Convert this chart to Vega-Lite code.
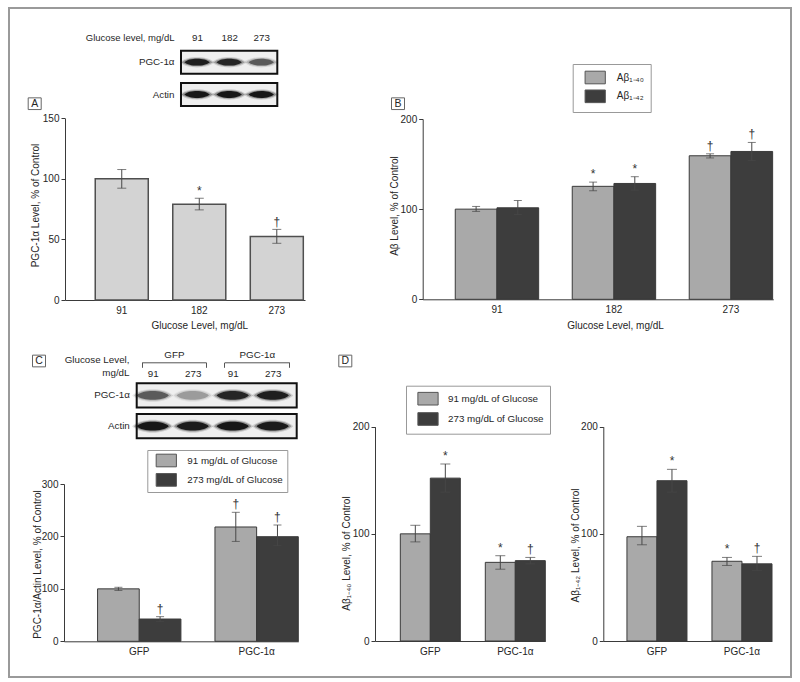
{
  "$schema": "https://vega.github.io/schema/vega-lite/v6.json",
  "width": 782,
  "height": 669,
  "autosize": {"type": "none"},
  "padding": {"left": 9, "top": 8, "right": 9, "bottom": 5},
  "background": "white",
  "config": {
    "font": "Liberation Sans, Arial, Helvetica, sans-serif",
    "view": {"stroke": "#9a9a9a", "strokeWidth": 2},
    "axis": {
      "grid": false,
      "labelFont": "Liberation Sans, Arial, Helvetica, sans-serif",
      "titleFont": "Liberation Sans, Arial, Helvetica, sans-serif",
      "labelFontSize": 10,
      "titleFontSize": 10,
      "titleFontWeight": "normal",
      "labelColor": "#262626",
      "titleColor": "#262626",
      "domainColor": "#3a3a3a",
      "tickColor": "#3a3a3a",
      "tickSize": 4,
      "labelPadding": 2
    },
    "legend": {
      "labelFont": "Liberation Sans, Arial, Helvetica, sans-serif",
      "labelFontSize": 9.8,
      "labelColor": "#262626",
      "symbolOpacity": 1
    },
    "text": {"font": "Liberation Sans, Arial, Helvetica, sans-serif"}
  },
  "datasets": {
    "A": [
      {"glucose": "91", "value": 100, "lo": 92.3, "hi": 107.7, "sig": ""},
      {"glucose": "182", "value": 79, "lo": 74.4, "hi": 84, "sig": "*"},
      {"glucose": "273", "value": 52.5, "lo": 46.8, "hi": 58.3, "sig": "†"}
    ],
    "B": [
      {"glucose": "91", "peptide": "Aβ₁₋₄₀", "value": 100, "lo": 97.5, "hi": 103, "sig": ""},
      {"glucose": "91", "peptide": "Aβ₁₋₄₂", "value": 101.5, "lo": 94, "hi": 109.5, "sig": ""},
      {"glucose": "182", "peptide": "Aβ₁₋₄₀", "value": 125.3, "lo": 120.4, "hi": 130, "sig": "*"},
      {"glucose": "182", "peptide": "Aβ₁₋₄₂", "value": 128.5, "lo": 121, "hi": 136, "sig": "*"},
      {"glucose": "273", "peptide": "Aβ₁₋₄₀", "value": 159.2, "lo": 156.8, "hi": 161.4, "sig": "†"},
      {"glucose": "273", "peptide": "Aβ₁₋₄₂", "value": 164, "lo": 154, "hi": 174, "sig": "†"}
    ],
    "C": [
      {"virus": "GFP", "glucose": "91 mg/dL of Glucose", "value": 100, "lo": 97, "hi": 103, "sig": ""},
      {"virus": "GFP", "glucose": "273 mg/dL of Glucose", "value": 42.5, "lo": 38, "hi": 47, "sig": "†"},
      {"virus": "PGC-1α", "glucose": "91 mg/dL of Glucose", "value": 218, "lo": 190.5, "hi": 246, "sig": "†"},
      {"virus": "PGC-1α", "glucose": "273 mg/dL of Glucose", "value": 199.5, "lo": 182.3, "hi": 221.8, "sig": "†"}
    ],
    "D": [
      {"peptide": "1-40", "virus": "GFP", "glucose": "91 mg/dL of Glucose", "value": 100, "lo": 92.5, "hi": 108, "sig": ""},
      {"peptide": "1-40", "virus": "GFP", "glucose": "273 mg/dL of Glucose", "value": 152, "lo": 139, "hi": 165.2, "sig": "*"},
      {"peptide": "1-40", "virus": "PGC-1α", "glucose": "91 mg/dL of Glucose", "value": 73.4, "lo": 67, "hi": 79.6, "sig": "*"},
      {"peptide": "1-40", "virus": "PGC-1α", "glucose": "273 mg/dL of Glucose", "value": 75, "lo": 72, "hi": 78, "sig": "†"},
      {"peptide": "1-42", "virus": "GFP", "glucose": "91 mg/dL of Glucose", "value": 97.3, "lo": 89.8, "hi": 107, "sig": ""},
      {"peptide": "1-42", "virus": "GFP", "glucose": "273 mg/dL of Glucose", "value": 149.6, "lo": 139, "hi": 160.2, "sig": "*"},
      {"peptide": "1-42", "virus": "PGC-1α", "glucose": "91 mg/dL of Glucose", "value": 74.4, "lo": 70.5, "hi": 78, "sig": "*"},
      {"peptide": "1-42", "virus": "PGC-1α", "glucose": "273 mg/dL of Glucose", "value": 72, "lo": 66, "hi": 79, "sig": "†"}
    ],
    "blotRows": [{"row": "PGC-1α"}, {"row": "Actin"}],
    "blotA": [
      {"row": "PGC-1α", "lane": 1, "intensity": 0.9},
      {"row": "PGC-1α", "lane": 2, "intensity": 0.85},
      {"row": "PGC-1α", "lane": 3, "intensity": 0.55},
      {"row": "Actin", "lane": 1, "intensity": 0.95},
      {"row": "Actin", "lane": 2, "intensity": 0.95},
      {"row": "Actin", "lane": 3, "intensity": 0.95}
    ],
    "blotC": [
      {"row": "PGC-1α", "lane": 1, "intensity": 0.55},
      {"row": "PGC-1α", "lane": 2, "intensity": 0.28},
      {"row": "PGC-1α", "lane": 3, "intensity": 0.85},
      {"row": "PGC-1α", "lane": 4, "intensity": 0.9},
      {"row": "Actin", "lane": 1, "intensity": 0.95},
      {"row": "Actin", "lane": 2, "intensity": 0.92},
      {"row": "Actin", "lane": 3, "intensity": 0.95},
      {"row": "Actin", "lane": 4, "intensity": 0.93}
    ]
  },
  "layer": [
    {
      "layer": [
        {
          "data": {"name": "blotRows"},
          "mark": {"type": "bar", "fill": "#efefef", "stroke": "#111111", "strokeWidth": 2},
          "encoding": {
            "x": {"datum": 0.5, "type": "quantitative", "scale": {"domain": [0.5, 3.5], "range": [172, 268.3], "nice": false, "zero": false}},
            "x2": {"datum": 3.5},
            "y": {"field": "row", "type": "nominal", "sort": null,
              "scale": {"domain": ["PGC-1α", "Actin"], "range": [42.7, 98], "paddingInner": 0.29, "paddingOuter": 0},
              "axis": {"orient": "left", "offset": -172, "domain": false, "ticks": false, "tickSize": 0, "labelPadding": 7, "labelFontSize": 9.8, "title": null}}
          }
        },
        {
          "data": {"name": "blotA"},
          "mark": {"type": "point", "shape": "M-1,0C-0.6,-0.4,0.6,-0.4,1,0C0.6,0.4,-0.6,0.4,-1,0Z", "filled": true, "color": "#111111", "size": 1200, "fillOpacity": 0.15},
          "encoding": {
            "x": {"field": "lane", "type": "quantitative"},
            "y": {"field": "row", "type": "nominal", "sort": null},
            "opacity": {"field": "intensity", "type": "quantitative", "scale": null, "legend": null}
          }
        },
        {
          "data": {"name": "blotA"},
          "mark": {"type": "point", "shape": "M-1,0C-0.6,-0.36,0.6,-0.36,1,0C0.6,0.36,-0.6,0.36,-1,0Z", "filled": true, "color": "#111111", "size": 950, "fillOpacity": 0.35},
          "encoding": {
            "x": {"field": "lane", "type": "quantitative"},
            "y": {"field": "row", "type": "nominal", "sort": null},
            "opacity": {"field": "intensity", "type": "quantitative", "scale": null, "legend": null}
          }
        },
        {
          "data": {"name": "blotA"},
          "mark": {"type": "point", "shape": "M-1,0C-0.6,-0.36,0.6,-0.36,1,0C0.6,0.36,-0.6,0.36,-1,0Z", "filled": true, "color": "#111111", "size": 650},
          "encoding": {
            "x": {"field": "lane", "type": "quantitative",
              "axis": {"orient": "top", "offset": -29.7, "values": [1, 2, 3], "labelExpr": "datum.value == 1 ? '91' : datum.value == 2 ? '182' : '273'", "domain": false, "ticks": false, "tickSize": 0, "labelPadding": 0, "labelBaseline": "middle", "labelAngle": 0, "labelFontSize": 9.8, "title": "Glucose level, mg/dL", "titleFontSize": 9.5, "titleX": 165, "titleY": 0, "titleAlign": "right", "titleBaseline": "middle", "titleAngle": 0}},
            "y": {"field": "row", "type": "nominal", "sort": null},
            "opacity": {"field": "intensity", "type": "quantitative", "scale": null, "legend": null}
          }
        }
      ]
    },
    {
      "layer": [
        {
          "data": {"name": "blotRows"},
          "mark": {"type": "bar", "fill": "#efefef", "stroke": "#111111", "strokeWidth": 2},
          "encoding": {
            "x": {"datum": 0.6, "type": "quantitative", "scale": {"domain": [0.6, 4.6], "range": [127.7, 287.7], "nice": false, "zero": false}},
            "x2": {"datum": 4.6},
            "y": {"field": "row", "type": "nominal", "sort": null,
              "scale": {"domain": ["PGC-1α", "Actin"], "range": [375.3, 430.3], "paddingInner": 0.214, "paddingOuter": 0},
              "axis": {"orient": "left", "offset": -127.7, "domain": false, "ticks": false, "tickSize": 0, "labelPadding": 7.4, "labelFontSize": 9.8, "title": null}}
          }
        },
        {
          "data": {"name": "blotC"},
          "mark": {"type": "point", "shape": "M-1,0C-0.6,-0.42,0.6,-0.42,1,0C0.6,0.42,-0.6,0.42,-1,0Z", "filled": true, "color": "#111111", "size": 1700, "fillOpacity": 0.15},
          "encoding": {
            "x": {"field": "lane", "type": "quantitative"},
            "y": {"field": "row", "type": "nominal", "sort": null},
            "opacity": {"field": "intensity", "type": "quantitative", "scale": null, "legend": null}
          }
        },
        {
          "data": {"name": "blotC"},
          "mark": {"type": "point", "shape": "M-1,0C-0.6,-0.38,0.6,-0.38,1,0C0.6,0.38,-0.6,0.38,-1,0Z", "filled": true, "color": "#111111", "size": 1400, "fillOpacity": 0.35},
          "encoding": {
            "x": {"field": "lane", "type": "quantitative"},
            "y": {"field": "row", "type": "nominal", "sort": null},
            "opacity": {"field": "intensity", "type": "quantitative", "scale": null, "legend": null}
          }
        },
        {
          "data": {"name": "blotC"},
          "mark": {"type": "point", "shape": "M-1,0C-0.6,-0.36,0.6,-0.36,1,0C0.6,0.36,-0.6,0.36,-1,0Z", "filled": true, "color": "#111111", "size": 1050},
          "encoding": {
            "x": {"field": "lane", "type": "quantitative",
              "axis": {"orient": "top", "offset": -365.3, "values": [1, 2, 3, 4], "labelExpr": "datum.value == 1 || datum.value == 3 ? '91' : '273'", "domain": false, "ticks": false, "tickSize": 0, "labelPadding": 0, "labelBaseline": "middle", "labelAngle": 0, "labelFontSize": 9.8, "title": ["Glucose Level,", "mg/dL"], "titleFontSize": 9.8, "titleX": 120, "titleY": -14, "titleAlign": "right", "titleBaseline": "middle", "titleAngle": 0, "titleLineHeight": 13.4}},
            "y": {"field": "row", "type": "nominal", "sort": null},
            "opacity": {"field": "intensity", "type": "quantitative", "scale": null, "legend": null}
          }
        }
      ]
    },
    {
      "data": {"values": [{"group": "GFP"}]},
      "mark": {"type": "point", "opacity": 0},
      "encoding": {
        "x": {"datum": 0, "type": "quantitative", "scale": {"domain": [0, 1], "range": [132.7, 197], "nice": false, "zero": false},
          "axis": {"orient": "top", "offset": -354.3, "values": [0, 1], "labels": false, "domain": true, "ticks": true, "tickSize": -5, "domainColor": "#555555", "tickColor": "#555555", "title": "GFP", "titleFontSize": 9.8, "titleX": 164.85, "titleY": -8, "titleAlign": "center", "titleBaseline": "middle", "titleAngle": 0}}
      }
    },
    {
      "data": {"values": [{"group": "PGC-1α"}]},
      "mark": {"type": "point", "opacity": 0},
      "encoding": {
        "x": {"datum": 0, "type": "quantitative", "scale": {"domain": [0, 1], "range": [215.3, 280.3], "nice": false, "zero": false},
          "axis": {"orient": "top", "offset": -354.3, "values": [0, 1], "labels": false, "domain": true, "ticks": true, "tickSize": -5, "domainColor": "#555555", "tickColor": "#555555", "title": "PGC-1α", "titleFontSize": 9.8, "titleX": 247.8, "titleY": -8, "titleAlign": "center", "titleBaseline": "middle", "titleAngle": 0}}
      }
    },
    {
      "data": {"name": "A"},
      "encoding": {
        "x": {"field": "glucose", "type": "nominal", "sort": null,
          "scale": {"domain": ["91", "182", "273"], "range": [56, 296], "paddingInner": 0.316, "paddingOuter": 0.206, "align": 0.947},
          "axis": {"orient": "bottom", "offset": -377, "ticks": false, "tickSize": 0, "labelPadding": 5, "labelAngle": 0, "title": "Glucose Level, mg/dL", "titleX": 190.3, "titleY": 25, "titleAlign": "center", "titleBaseline": "middle"}},
        "y": {"field": "value", "type": "quantitative", "scale": {"domain": [0, 150], "range": [292, 110.3], "nice": false, "zero": false},
          "axis": {"orient": "left", "offset": -56, "values": [0, 50, 100, 150], "title": "PGC-1α Level, % of Control", "titleX": -30, "titleY": 197, "titleAngle": -90, "titleAlign": "center", "titleBaseline": "middle"}}
      },
      "layer": [
        {"mark": {"type": "bar", "fill": "#d3d3d3", "stroke": "#4f4f4f", "strokeWidth": 1.5}},
        {"mark": {"type": "rule", "color": "#474747", "strokeWidth": 1}, "encoding": {"y": {"field": "lo", "type": "quantitative"}, "y2": {"field": "hi"}}},
        {"mark": {"type": "tick", "color": "#474747", "thickness": 1, "size": 9}, "encoding": {"y": {"field": "lo", "type": "quantitative"}}},
        {"mark": {"type": "tick", "color": "#474747", "thickness": 1, "size": 9}, "encoding": {"y": {"field": "hi", "type": "quantitative"}}},
        {"mark": {"type": "text", "fontSize": 12, "dy": -3, "baseline": "alphabetic", "color": "#333333"}, "encoding": {"y": {"field": "hi", "type": "quantitative"}, "text": {"field": "sig"}}}
      ]
    },
    {
      "data": {"name": "B"},
      "encoding": {
        "x": {"field": "glucose", "type": "nominal", "sort": null,
          "scale": {"domain": ["91", "182", "273"], "range": [413.7, 764.3], "paddingInner": 0.287, "paddingOuter": 0.142, "align": 0.98},
          "axis": {"orient": "bottom", "offset": -377.7, "ticks": false, "tickSize": 0, "labelPadding": 5, "labelAngle": 0, "title": "Glucose Level, mg/dL", "titleX": 606, "titleY": 25.7, "titleAlign": "center", "titleBaseline": "middle"}},
        "xOffset": {"field": "peptide", "type": "nominal", "sort": null, "scale": {"domain": ["Aβ₁₋₄₀", "Aβ₁₋₄₂"], "paddingInner": 0, "paddingOuter": 0}},
        "y": {"field": "value", "type": "quantitative", "scale": {"domain": [0, 200], "range": [291.3, 111], "nice": false, "zero": false},
          "axis": {"orient": "left", "offset": -413.7, "values": [0, 100, 200], "title": "Aβ Level, % of Control", "titleX": -28, "titleY": 197.5, "titleAngle": -90, "titleAlign": "center", "titleBaseline": "middle"}}
      },
      "layer": [
        {
          "mark": {"type": "bar", "stroke": "#3a3a3a", "strokeWidth": 1},
          "encoding": {
            "color": {"field": "peptide", "type": "nominal", "sort": null,
              "scale": {"domain": ["Aβ₁₋₄₀", "Aβ₁₋₄₂"], "range": ["#a9a9a9", "#3d3d3d"]},
              "legend": {"orient": "none", "legendX": 563.7, "legendY": 56, "title": null, "symbolType": "M-1.6,-1H1.6V1H-1.6Z", "symbolSize": 160, "symbolStrokeColor": "#555555", "symbolStrokeWidth": 1, "symbolOpacity": 1, "labelFontSize": 10, "symbolOffset": 9, "labelOffset": 14.6, "rowPadding": 0.8, "padding": 6.5, "strokeColor": "#999999", "fillColor": "#ffffff"}}
          }
        },
        {"mark": {"type": "rule", "color": "#474747", "strokeWidth": 1}, "encoding": {"y": {"field": "lo", "type": "quantitative"}, "y2": {"field": "hi"}}},
        {"mark": {"type": "tick", "color": "#474747", "thickness": 1, "size": 8}, "encoding": {"y": {"field": "lo", "type": "quantitative"}}},
        {"mark": {"type": "tick", "color": "#474747", "thickness": 1, "size": 8}, "encoding": {"y": {"field": "hi", "type": "quantitative"}}},
        {"mark": {"type": "text", "fontSize": 12, "dy": -4, "baseline": "alphabetic", "color": "#333333"}, "encoding": {"y": {"field": "hi", "type": "quantitative"}, "text": {"field": "sig"}}}
      ]
    },
    {
      "data": {"name": "C"},
      "encoding": {
        "x": {"field": "virus", "type": "nominal", "sort": null,
          "scale": {"domain": ["GFP", "PGC-1α"], "range": [55, 289.3], "paddingInner": 0.29, "paddingOuter": 0.143, "align": 1},
          "axis": {"orient": "bottom", "offset": -35.7, "ticks": false, "tickSize": 0, "labelPadding": 5, "labelAngle": 0, "title": null}},
        "xOffset": {"field": "glucose", "type": "nominal", "sort": null, "scale": {"domain": ["91 mg/dL of Glucose", "273 mg/dL of Glucose"], "paddingInner": 0, "paddingOuter": 0}},
        "y": {"field": "value", "type": "quantitative", "scale": {"domain": [0, 300], "range": [633.3, 476], "nice": false, "zero": false},
          "axis": {"orient": "left", "offset": -55, "values": [0, 100, 200, 300], "title": "PGC-1α/Actin Level, % of Control", "titleX": -26.7, "titleY": 556, "titleAngle": -90, "titleAlign": "center", "titleBaseline": "middle"}}
      },
      "layer": [
        {
          "mark": {"type": "bar", "stroke": "#3a3a3a", "strokeWidth": 1},
          "encoding": {
            "color": {"field": "glucose", "type": "nominal", "sort": null,
              "scale": {"domain": ["91 mg/dL of Glucose", "273 mg/dL of Glucose"], "range": ["#a9a9a9", "#3d3d3d"]},
              "legend": {"orient": "none", "legendX": 138.3, "legendY": 442, "title": null, "symbolType": "M-1.6,-1H1.6V1H-1.6Z", "symbolSize": 160, "symbolStrokeColor": "#555555", "symbolStrokeWidth": 1, "symbolOpacity": 1, "labelFontSize": 9.8, "symbolOffset": 8.5, "labelOffset": 14, "rowPadding": 1.4, "padding": 3.5, "strokeColor": "#999999", "fillColor": "#ffffff"}}
          }
        },
        {"mark": {"type": "rule", "color": "#474747", "strokeWidth": 1}, "encoding": {"y": {"field": "lo", "type": "quantitative"}, "y2": {"field": "hi"}}},
        {"mark": {"type": "tick", "color": "#474747", "thickness": 1, "size": 8}, "encoding": {"y": {"field": "lo", "type": "quantitative"}}},
        {"mark": {"type": "tick", "color": "#474747", "thickness": 1, "size": 8}, "encoding": {"y": {"field": "hi", "type": "quantitative"}}},
        {"mark": {"type": "text", "fontSize": 12, "dy": -4, "baseline": "alphabetic", "color": "#333333"}, "encoding": {"y": {"field": "hi", "type": "quantitative"}, "text": {"field": "sig"}}}
      ]
    },
    {
      "data": {"name": "D"},
      "transform": [{"filter": "datum.peptide == '1-40'"}],
      "encoding": {
        "x": {"field": "virus", "type": "nominal", "sort": null,
          "scale": {"domain": ["GFP", "PGC-1α"], "range": [366, 536.3], "paddingInner": 0.294, "paddingOuter": 0.149, "align": 1},
          "axis": {"orient": "bottom", "offset": -36, "ticks": false, "tickSize": 0, "labelPadding": 5, "labelAngle": 0, "title": null}},
        "xOffset": {"field": "glucose", "type": "nominal", "sort": null, "scale": {"domain": ["91 mg/dL of Glucose", "273 mg/dL of Glucose"], "paddingInner": 0, "paddingOuter": 0}},
        "y": {"field": "value", "type": "quantitative", "scale": {"domain": [0, 200], "range": [633, 418.7], "nice": false, "zero": false},
          "axis": {"orient": "left", "offset": -366, "values": [0, 100, 200], "title": "Aβ₁₋₄₀ Level, % of Control", "titleX": -28.5, "titleY": 545, "titleAngle": -90, "titleAlign": "center", "titleBaseline": "middle"}}
      },
      "layer": [
        {
          "mark": {"type": "bar", "stroke": "#3a3a3a", "strokeWidth": 1},
          "encoding": {
            "color": {"field": "glucose", "type": "nominal", "sort": null,
              "scale": {"domain": ["91 mg/dL of Glucose", "273 mg/dL of Glucose"], "range": ["#a9a9a9", "#3d3d3d"]},
              "legend": {"orient": "none", "legendX": 397, "legendY": 377.7, "title": null, "symbolType": "M-1.6,-1H1.6V1H-1.6Z", "symbolSize": 160, "symbolStrokeColor": "#555555", "symbolStrokeWidth": 1, "symbolOpacity": 1, "labelFontSize": 9.8, "symbolOffset": 9, "labelOffset": 13, "rowPadding": 2.3, "padding": 6, "strokeColor": "#999999", "fillColor": "#ffffff"}}
          }
        },
        {"mark": {"type": "rule", "color": "#474747", "strokeWidth": 1}, "encoding": {"y": {"field": "lo", "type": "quantitative"}, "y2": {"field": "hi"}}},
        {"mark": {"type": "tick", "color": "#474747", "thickness": 1, "size": 10}, "encoding": {"y": {"field": "lo", "type": "quantitative"}}},
        {"mark": {"type": "tick", "color": "#474747", "thickness": 1, "size": 10}, "encoding": {"y": {"field": "hi", "type": "quantitative"}}},
        {"mark": {"type": "text", "fontSize": 12, "dy": -4, "baseline": "alphabetic", "color": "#333333"}, "encoding": {"y": {"field": "hi", "type": "quantitative"}, "text": {"field": "sig"}}}
      ]
    },
    {
      "data": {"name": "D"},
      "transform": [{"filter": "datum.peptide == '1-42'"}],
      "encoding": {
        "x": {"field": "virus", "type": "nominal", "sort": null,
          "scale": {"domain": ["GFP", "PGC-1α"], "range": [594.3, 763], "paddingInner": 0.294, "paddingOuter": 0.139, "align": 1},
          "axis": {"orient": "bottom", "offset": -36, "ticks": false, "tickSize": 0, "labelPadding": 5, "labelAngle": 0, "title": null}},
        "xOffset": {"field": "glucose", "type": "nominal", "sort": null, "scale": {"domain": ["91 mg/dL of Glucose", "273 mg/dL of Glucose"], "paddingInner": 0, "paddingOuter": 0}},
        "y": {"field": "value", "type": "quantitative", "scale": {"domain": [0, 200], "range": [633, 418.7], "nice": false, "zero": false},
          "axis": {"orient": "left", "offset": -594.3, "values": [0, 100, 200], "title": "Aβ₁₋₄₂ Level, % of Control", "titleX": -27.5, "titleY": 537, "titleAngle": -90, "titleAlign": "center", "titleBaseline": "middle"}}
      },
      "layer": [
        {
          "mark": {"type": "bar", "stroke": "#3a3a3a", "strokeWidth": 1},
          "encoding": {
            "color": {"field": "glucose", "type": "nominal", "sort": null,
              "scale": {"domain": ["91 mg/dL of Glucose", "273 mg/dL of Glucose"], "range": ["#a9a9a9", "#3d3d3d"]},
              "legend": null}
          }
        },
        {"mark": {"type": "rule", "color": "#474747", "strokeWidth": 1}, "encoding": {"y": {"field": "lo", "type": "quantitative"}, "y2": {"field": "hi"}}},
        {"mark": {"type": "tick", "color": "#474747", "thickness": 1, "size": 10}, "encoding": {"y": {"field": "lo", "type": "quantitative"}}},
        {"mark": {"type": "tick", "color": "#474747", "thickness": 1, "size": 10}, "encoding": {"y": {"field": "hi", "type": "quantitative"}}},
        {"mark": {"type": "text", "fontSize": 12, "dy": -4, "baseline": "alphabetic", "color": "#333333"}, "encoding": {"y": {"field": "hi", "type": "quantitative"}, "text": {"field": "sig"}}}
      ]
    },
    {
      "data": {"values": [{"panel": "A"}]},
      "mark": {"type": "point", "size": 0, "filled": false, "color": "#666666", "strokeWidth": 1},
      "encoding": {"shape": {"field": "panel", "type": "nominal", "scale": {"range": ["M-1,-0.9H1V0.9H-1Z"]}, "legend": {"orient": "none", "legendX": 18.7, "legendY": 88.7, "title": null, "symbolSize": 169, "symbolStrokeWidth": 1, "symbolStrokeColor": "#666666", "symbolFillColor": "#ffffff", "symbolOpacity": 1, "labelAlign": "center", "labelOffset": -7, "padding": 0, "labelFontSize": 10.5}}}
    },
    {
      "data": {"values": [{"panel": "B"}]},
      "mark": {"type": "point", "size": 0, "filled": false, "color": "#666666", "strokeWidth": 1},
      "encoding": {"shape": {"field": "panel", "type": "nominal", "scale": {"range": ["M-1,-0.9H1V0.9H-1Z"]}, "legend": {"orient": "none", "legendX": 382, "legendY": 88.7, "title": null, "symbolSize": 169, "symbolStrokeWidth": 1, "symbolStrokeColor": "#666666", "symbolFillColor": "#ffffff", "symbolOpacity": 1, "labelAlign": "center", "labelOffset": -7, "padding": 0, "labelFontSize": 10.5}}}
    },
    {
      "data": {"values": [{"panel": "C"}]},
      "mark": {"type": "point", "size": 0, "filled": false, "color": "#666666", "strokeWidth": 1},
      "encoding": {"shape": {"field": "panel", "type": "nominal", "scale": {"range": ["M-1,-0.9H1V0.9H-1Z"]}, "legend": {"orient": "none", "legendX": 23, "legendY": 346, "title": null, "symbolSize": 169, "symbolStrokeWidth": 1, "symbolStrokeColor": "#666666", "symbolFillColor": "#ffffff", "symbolOpacity": 1, "labelAlign": "center", "labelOffset": -7, "padding": 0, "labelFontSize": 10.5}}}
    },
    {
      "data": {"values": [{"panel": "D"}]},
      "mark": {"type": "point", "size": 0, "filled": false, "color": "#666666", "strokeWidth": 1},
      "encoding": {"shape": {"field": "panel", "type": "nominal", "scale": {"range": ["M-1,-0.9H1V0.9H-1Z"]}, "legend": {"orient": "none", "legendX": 329.3, "legendY": 346, "title": null, "symbolSize": 169, "symbolStrokeWidth": 1, "symbolStrokeColor": "#666666", "symbolFillColor": "#ffffff", "symbolOpacity": 1, "labelAlign": "center", "labelOffset": -7, "padding": 0, "labelFontSize": 10.5}}}
    }
  ],
  "resolve": {
    "scale": {"x": "independent", "y": "independent", "xOffset": "independent", "color": "independent", "shape": "independent"},
    "axis": {"x": "independent", "y": "independent"},
    "legend": {"color": "independent", "shape": "independent"}
  }
}
